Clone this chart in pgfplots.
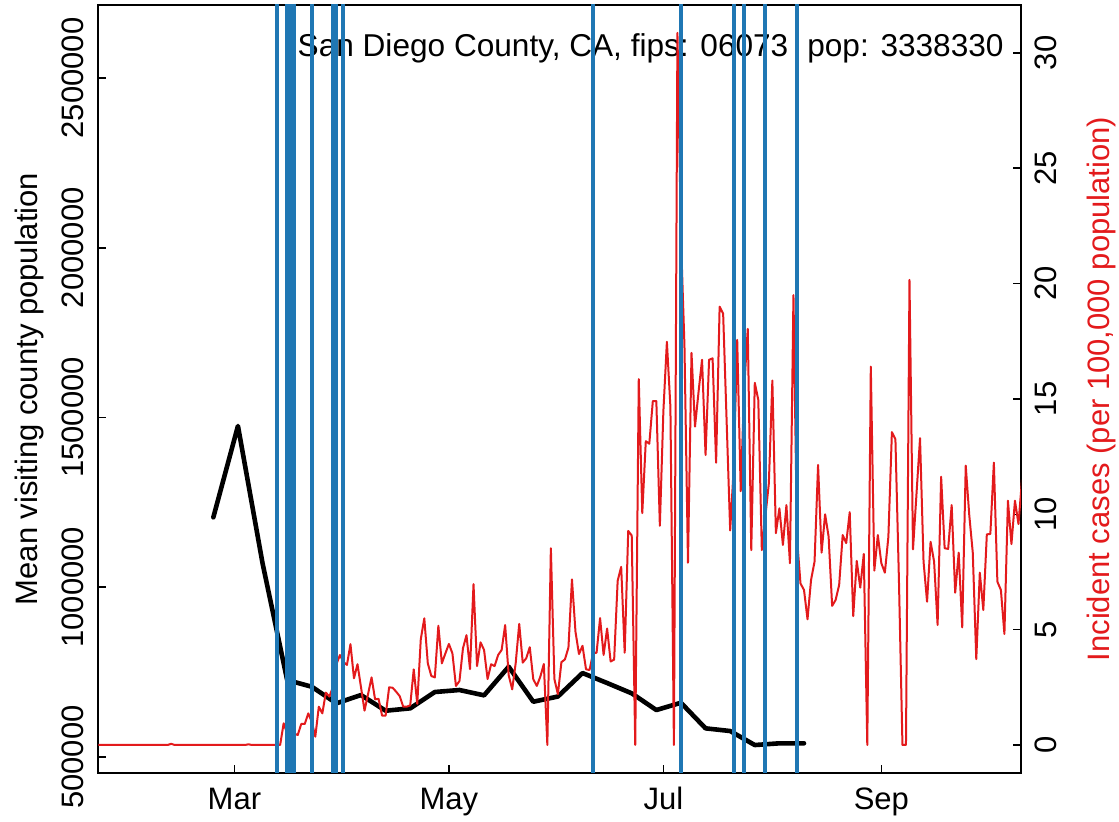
\documentclass[border=0pt]{standalone}
\usepackage{pgfplots}
\pgfplotsset{compat=1.18}
\usepackage{fontspec}
\setmainfont{Liberation Sans}
\definecolor{rred}{RGB}{227,26,28}
\definecolor{rblue}{RGB}{31,119,180}
\newcommand{\lf}{\fontsize{15.5}{18}\selectfont}

\begin{document}
\begin{tikzpicture}[x=1pt,y=1pt]
\path[use as bounding box] (0,0) rectangle (559.5,411);

\node[rotate=90, anchor=base, inner sep=0pt, font=\lf] at (18.5,216.5) {Mean visiting county population};
\node[rotate=90, anchor=base, inner sep=0pt, font=\lf, text=rred] at (554.5,216.5) {Incident cases (per 100,000 population)};

\begin{axis}[
  at={(49.15pt,24.5pt)}, anchor=south west,
  scale only axis, width=461.35pt, height=384pt,
  xmin=22.28, xmax=284.72,
  ymin=453000, ymax=2715000,
  xtick={61,122,183,245}, xticklabels={Mar,May,Jul,Sep},
  ytick={500000,1000000,1500000,2000000,2500000},
  yticklabels={500000,1000000,1500000,2000000,2500000},
  scaled y ticks=false,
  tick align=inside, major tick length=4pt,
  xtick pos=bottom, ytick pos=left,
  axis line style={line width=0.8pt},
  every tick/.style={black, line width=0.8pt},
  tick label style={font=\lf},
  xticklabel style={anchor=base, yshift=-18.5pt, inner sep=0pt},
  yticklabel style={xshift=-7.2pt, rotate=90, anchor=base, inner sep=0pt},
  /pgf/number format/assume math mode=true,
]
\node[anchor=base east, inner sep=0pt, font=\fontsize{15.8}{18}\selectfont] at (rel axis cs:0.9816,0.9323) {San Diego County, CA, fips: 06073\hspace{9.5pt}pop: 3338330};
\addplot[black, line width=2.3pt, line join=round, line cap=round] coordinates {
(55,1206000) (62,1475000) (69,1070500) (76,726800) (83,707000) (90,658200)
(97,682600) (104,636400) (111,643400) (118,691500) (125,697400) (132,681700)
(139,766000) (146,662900) (153,678200) (160,747400) (167,718000) (174,687600)
(181,638400) (188,659900) (195,584500) (202,576600) (209,535300) (216,540400)
(223,540400)
};
\end{axis}

\begin{axis}[
  at={(49.15pt,24.5pt)}, anchor=south west,
  scale only axis, width=461.35pt, height=384pt,
  xmin=22.28, xmax=284.72,
  ymin=-1.214, ymax=32.08,
  axis x line=none, axis y line*=right,
  ytick={0,5,10,15,20,25,30},
  yticklabels={0,5,10,15,20,25,30},
  tick align=inside, major tick length=4pt,
  axis line style={line width=0.8pt, -},
  every tick/.style={black, line width=0.8pt},
  tick label style={font=\lf},
  yticklabel style={xshift=17.5pt, rotate=90, anchor=base, inner sep=0pt},
  /pgf/number format/assume math mode=true,
]
\addplot[rred, line width=1pt, line join=round] coordinates {
(22,0) (42,0) (43,0.05) (44,0) (64,0) (65,0.03) (66,0) (74,0)
(75,0.94) (76,0.5) (77,0.6) (78,0.5) (79,0.43) (80,0.91) (81,0.91) (82,1.37) (83,1.0) (84,0.36)
(85,1.66) (86,1.37) (87,2.27) (88,2.1) (89,2.5) (90,3.5) (91,3.9) (92,3.6) (93,3.47) (94,4.37)
(95,2.89) (96,3.5) (97,2.5) (98,1.49) (99,2.2) (100,2.93) (101,1.98) (102,2.0) (103,1.27) (104,1.27)
(105,2.5) (106,2.48) (107,2.31) (108,2.12) (109,1.66) (110,1.66) (111,1.72) (112,3.28) (113,1.78) (114,4.58)
(115,5.49) (116,3.54) (117,2.99) (118,2.93) (119,5.17) (120,3.54) (121,3.97) (122,4.38) (123,3.97) (124,2.56)
(125,2.77) (126,4.19) (127,4.76) (128,3.29) (129,6.97) (130,3.42) (131,4.45) (132,4.12) (133,2.86) (134,3.5)
(135,3.42) (136,3.9) (137,4.12) (138,5.2) (139,3.03) (140,2.41) (141,3.55) (142,5.25) (143,3.57) (144,3.76)
(145,4.24) (146,2.85) (147,2.56) (148,2.96) (149,3.51) (150,0) (151,8.53) (152,2.86) (153,2.2) (154,3.59)
(155,3.71) (156,4.22) (157,7.18) (158,4.91) (159,3.94) (160,4.3) (161,3.28) (162,3.25) (163,3.97) (164,4.0)
(165,5.5) (166,3.9) (167,5.05) (168,3.62) (169,3.7) (170,7.12) (171,7.72) (172,4.0) (173,9.28) (174,9.08)
(175,0) (176,15.86) (177,10.05) (178,13.17) (179,13.06) (180,14.91) (181,14.91) (182,9.5) (183,14.46) (184,17.48)
(185,14.66) (186,0) (187,30.87) (188,22) (189,17.3) (190,7.9) (191,17.0) (192,13.8) (193,15.3) (194,16.7)
(195,12.57) (196,16.7) (197,16.76) (198,12.24) (199,19.0) (200,18.7) (201,14.0) (202,9.3) (203,12.0) (204,17.56)
(205,11.0) (206,15.5) (207,18.04) (208,8.45) (209,15.7) (210,14.96) (211,8.45) (212,9.9) (213,11.34) (214,15.8)
(215,9.18) (216,10.26) (217,8.67) (218,10.4) (219,7.88) (220,19.5) (221,9.0) (222,7.0) (223,6.72) (224,5.45)
(225,7.15) (226,7.95) (227,12.14) (228,8.34) (229,10.0) (230,9.03) (231,6.03) (232,6.29) (233,6.94) (234,9.1)
(235,8.75) (236,10.09) (237,5.59) (238,7.98) (239,6.82) (240,8.28) (241,0) (242,16.4) (243,7.56) (244,9.1)
(245,7.88) (246,7.47) (247,9.03) (248,13.56) (249,13.25) (250,7.15) (251,0) (252,0) (253,20.16) (254,8.48)
(255,10.9) (256,13.3) (257,7.95) (258,6.21) (259,8.81) (260,7.95) (261,5.2) (262,11.63) (263,8.53) (264,8.5)
(265,10.4) (266,6.6) (267,8.34) (268,5.1) (269,12.11) (270,9.97) (271,8.34) (272,3.72) (273,7.47) (274,5.85)
(275,9.13) (276,9.15) (277,12.24) (278,7.08) (279,6.72) (280,4.81) (281,10.59) (282,8.71) (283,10.59) (284,9.58)
(285,11.5)
};
\addplot[rblue, line width=2pt, unbounded coords=jump] table {
x y
73 -5
73 40
73 nan
76 -5
76 40
76 nan
77 -5
77 40
77 nan
78 -5
78 40
78 nan
83 -5
83 40
83 nan
89 -5
89 40
89 nan
90 -5
90 40
90 nan
92 -5
92 40
92 nan
163 -5
163 40
163 nan
188 -5
188 40
188 nan
203 -5
203 40
203 nan
206 -5
206 40
206 nan
212 -5
212 40
212 nan
221 -5
221 40
};
\end{axis}
\end{tikzpicture}
\end{document}
